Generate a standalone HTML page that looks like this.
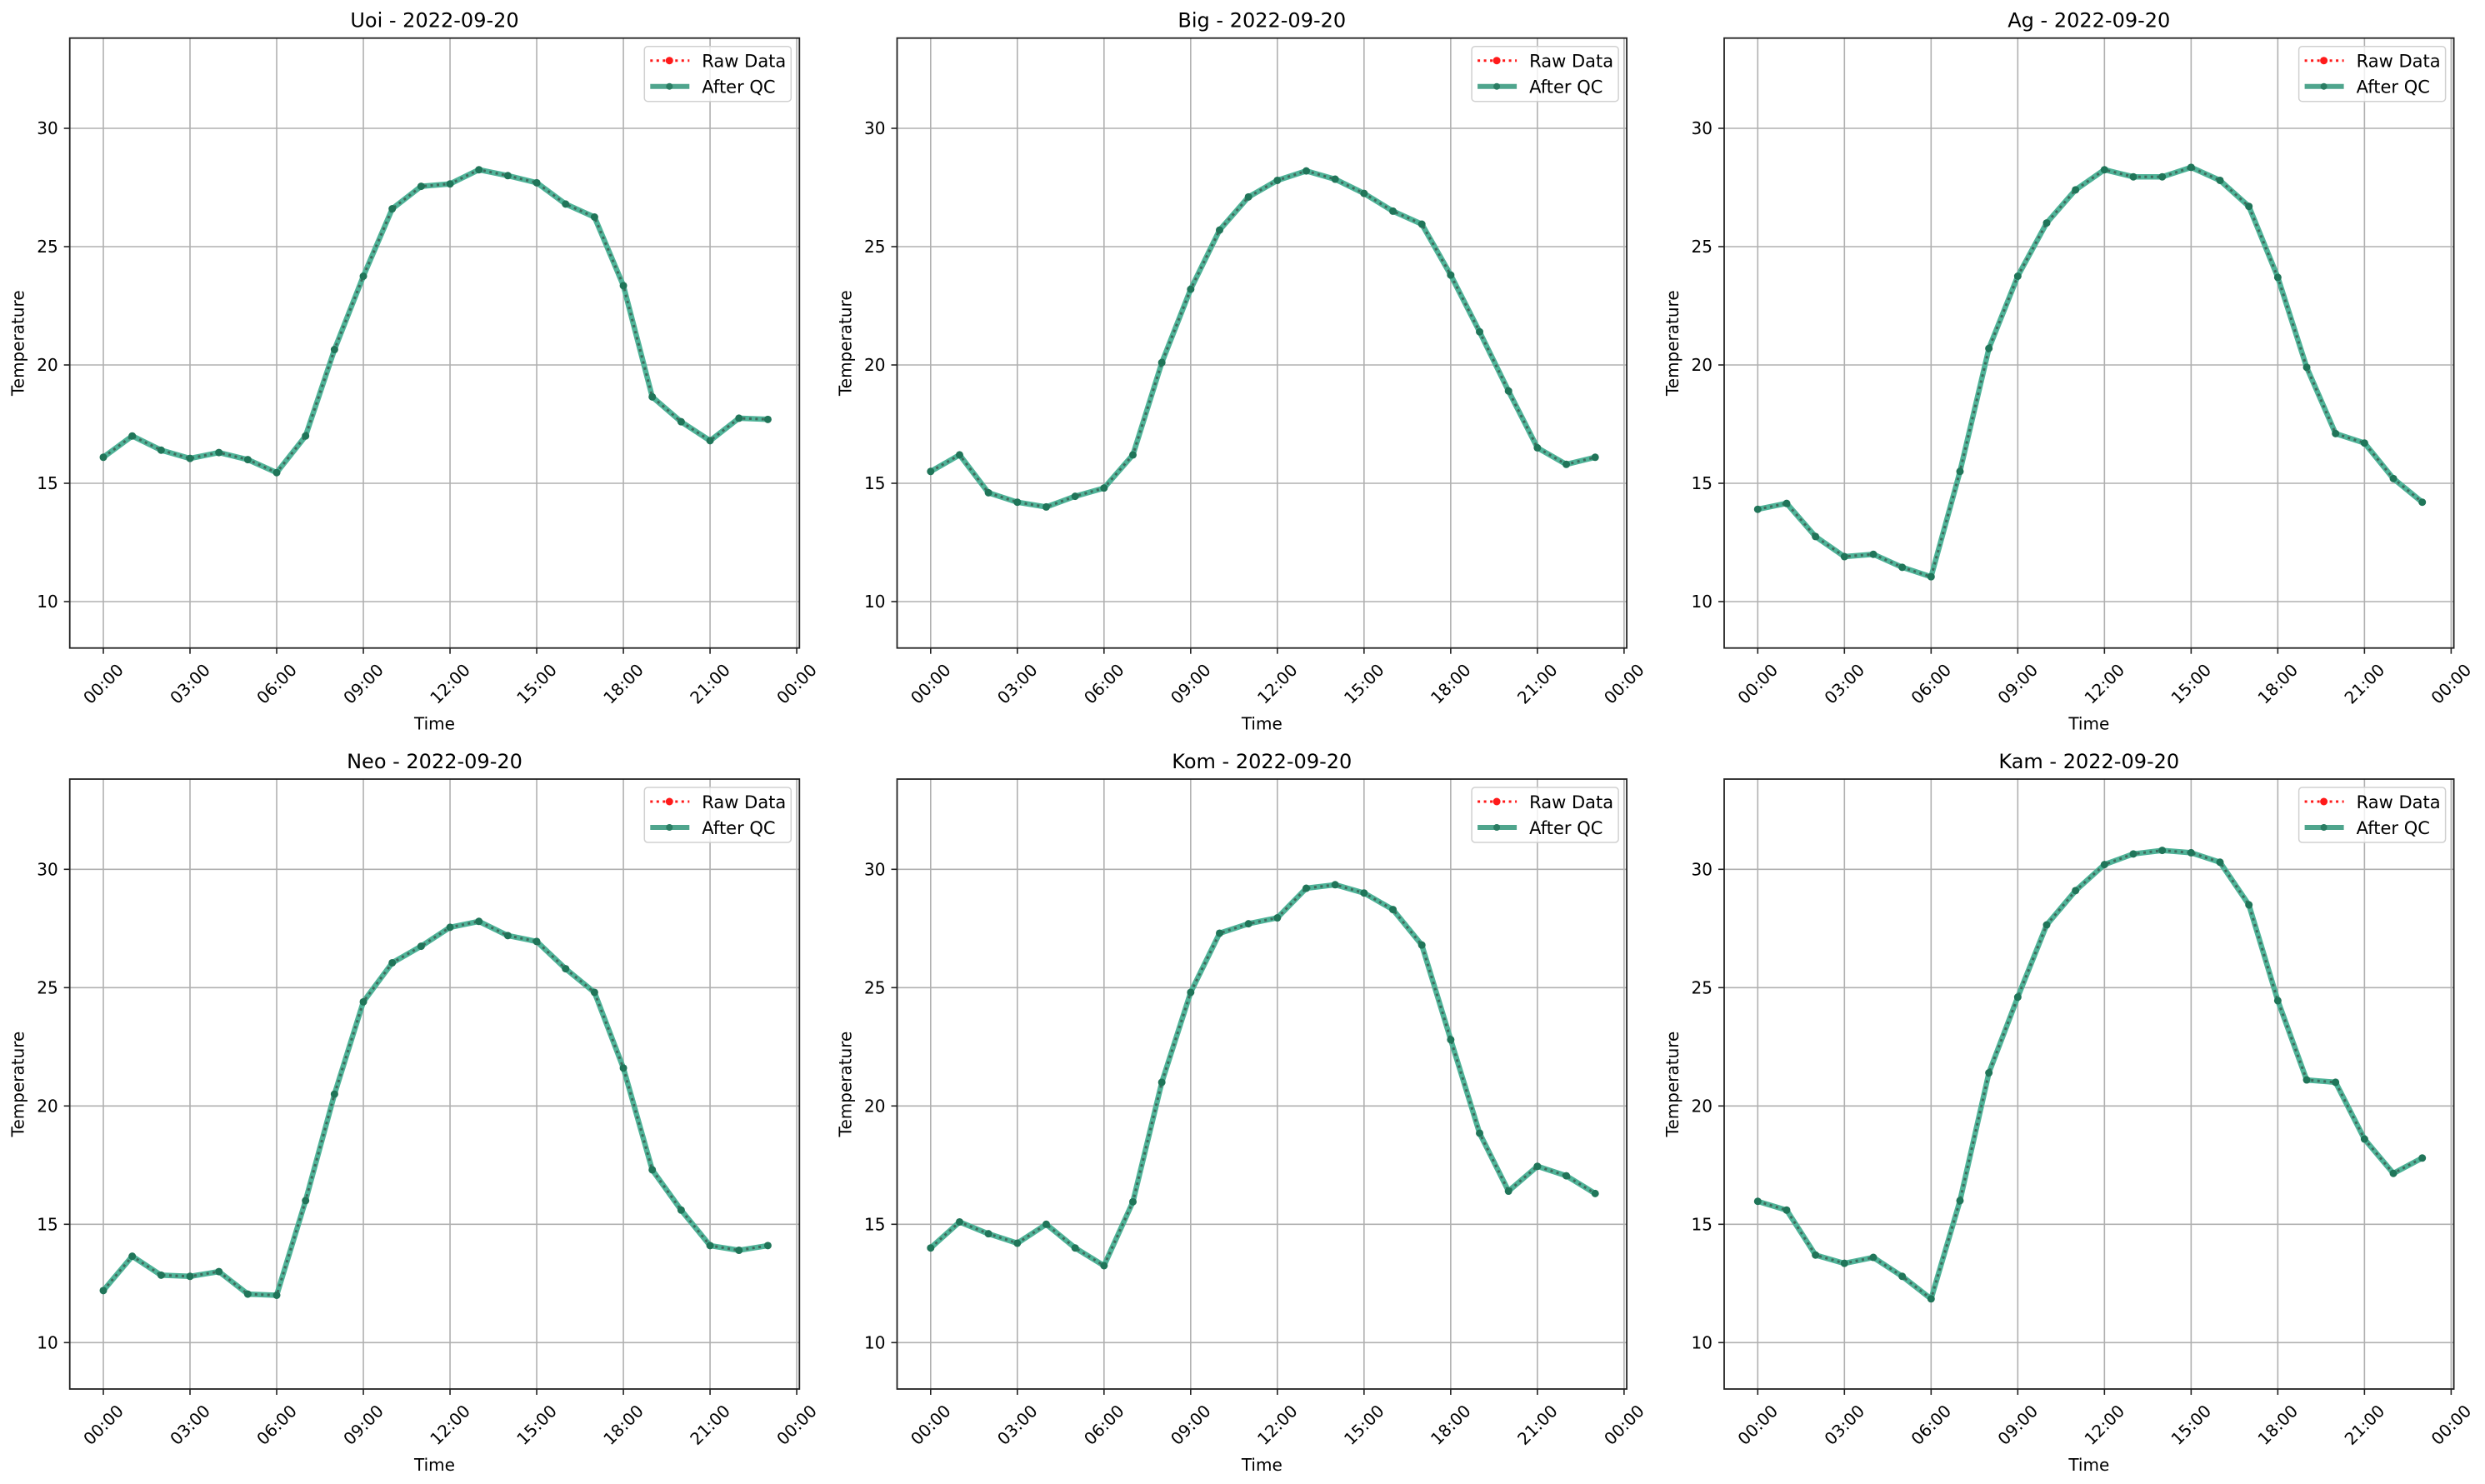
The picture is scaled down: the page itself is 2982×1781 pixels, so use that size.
<!DOCTYPE html>
<html><head><meta charset="utf-8"><style>
html,body{margin:0;padding:0;background:#fff;}
svg{display:block;font-family:"DejaVu Sans","Liberation Sans",sans-serif;}
</style></head><body>
<svg id="s" width="2982" height="1781" xmlns="http://www.w3.org/2000/svg"></svg>
<script>
const D=[
["Uoi",[16.1,17.0,16.4,16.05,16.3,16.0,15.45,17.0,20.65,23.75,26.6,27.55,27.65,28.25,28.0,27.7,26.8,26.25,23.35,18.65,17.6,16.8,17.75,17.7]],
["Big",[15.5,16.2,14.6,14.2,14.0,14.45,14.8,16.2,20.1,23.2,25.7,27.1,27.8,28.2,27.85,27.25,26.5,25.95,23.8,21.4,18.9,16.5,15.8,16.1]],
["Ag",[13.9,14.15,12.75,11.9,12.0,11.45,11.05,15.5,20.7,23.75,26.0,27.4,28.25,27.95,27.95,28.35,27.8,26.7,23.7,19.9,17.1,16.7,15.2,14.2]],
["Neo",[12.2,13.65,12.85,12.8,13.0,12.05,12.0,16.0,20.5,24.4,26.05,26.75,27.55,27.8,27.2,26.95,25.8,24.8,21.6,17.3,15.6,14.1,13.9,14.1]],
["Kom",[14.0,15.1,14.6,14.2,15.0,14.0,13.25,15.95,21.0,24.8,27.3,27.7,27.95,29.2,29.35,29.0,28.3,26.8,22.8,18.85,16.4,17.45,17.05,16.3]],
["Kam",[15.97,15.6,13.7,13.35,13.6,12.8,11.85,16.0,21.4,24.6,27.65,29.1,30.2,30.65,30.8,30.7,30.3,28.5,24.45,21.1,21.0,18.6,17.15,17.8]]
];
const lefts=[83.7,1076.5,2069],tops=[45.7,935],W=875.6,H=732;
let o='';
D.forEach((d,i)=>{
 const L=lefts[i%3],T=tops[Math.floor(i/3)],R=L+W,B=T+H;
 const X=h=>L+40.3+h*34.67, Y=v=>T+108.3+(30-v)*28.4;
 for(let h=0;h<=24;h+=3){const x=X(h);o+=`<line x1="${x}" y1="${T}" x2="${x}" y2="${B}" stroke="#b0b0b0" stroke-width="1.6"/>`;
  o+=`<line x1="${x}" y1="${B}" x2="${x}" y2="${B+7}" stroke="#222" stroke-width="1.6"/>`;
  const lab=String(h%24).padStart(2,'0')+':00';
  o+=`<text x="${x}" y="${B+43}" font-size="20" text-anchor="middle" dominant-baseline="central" transform="rotate(-45 ${x} ${B+43})">${lab}</text>`;}
 for(let v=10;v<=30;v+=5){const y=Y(v);o+=`<line x1="${L}" y1="${y}" x2="${R}" y2="${y}" stroke="#b0b0b0" stroke-width="1.6"/>`;
  o+=`<line x1="${L-7}" y1="${y}" x2="${L}" y2="${y}" stroke="#222" stroke-width="1.6"/>`;
  o+=`<text x="${L-14}" y="${y+7}" font-size="20" text-anchor="end">${v}</text>`;}
 const pts=d[1].map((v,h)=>X(h).toFixed(1)+','+Y(v).toFixed(1)).join(' ');
 o+=`<polyline points="${pts}" fill="none" stroke="#4fb398" stroke-width="6.5" stroke-linejoin="round"/>`;
 o+=`<polyline points="${pts}" fill="none" stroke="#3f6b5d" stroke-width="3" stroke-dasharray="3,4.5"/>`;
 d[1].forEach((v,h)=>{o+=`<circle cx="${X(h)}" cy="${Y(v)}" r="4.5" fill="#207559"/>`;});
 o+=`<rect x="${L}" y="${T}" width="${W}" height="${H}" fill="none" stroke="#222" stroke-width="1.8"/>`;
 o+=`<text x="${L+W/2}" y="${T-13}" font-size="24" text-anchor="middle">${d[0]} - 2022-09-20</text>`;
 o+=`<text x="${L+W/2}" y="${B+98}" font-size="20" text-anchor="middle">Time</text>`;
 o+=`<text x="0" y="0" font-size="20" text-anchor="middle" transform="translate(${L-55} ${T+H/2}) rotate(-90)">Temperature</text>`;
 const lx=R-186,ly=T+10;
 o+=`<rect x="${lx}" y="${ly}" width="176" height="66" rx="4" fill="#fff" fill-opacity="0.8" stroke="#d0d0d0" stroke-width="1.5"/>`;
 o+=`<line x1="${lx+7}" y1="${ly+17}" x2="${lx+54}" y2="${ly+17}" stroke="#ff1a1a" stroke-width="3" stroke-dasharray="3,4.5"/><circle cx="${lx+30}" cy="${ly+17}" r="4.5" fill="#ff1a1a"/>`;
 o+=`<text x="${lx+69}" y="${ly+25}" font-size="21">Raw Data</text>`;
 o+=`<line x1="${lx+7}" y1="${ly+48}" x2="${lx+54}" y2="${ly+48}" stroke="#4fa58d" stroke-width="6"/><circle cx="${lx+30}" cy="${ly+48}" r="4" fill="#2a7d63"/>`;
 o+=`<text x="${lx+69}" y="${ly+56}" font-size="21">After QC</text>`;
});
document.getElementById('s').innerHTML=o;
</script>
</body></html>
